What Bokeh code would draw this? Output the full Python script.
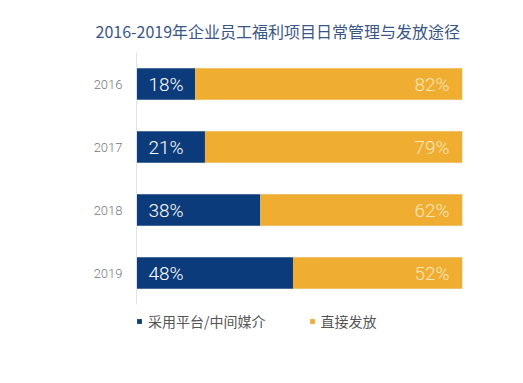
from bokeh.plotting import figure
from bokeh.models import ColumnDataSource, Range1d, FactorRange, Legend, LegendItem
from bokeh.core.properties import value
from bokeh.embed import file_html
from bokeh.resources import INLINE

years = ["2016", "2017", "2018", "2019"]
platform = [18, 21, 38, 48]
direct = [82, 79, 62, 52]
series_names = ["采用平台/中间媒介", "直接发放"]
title_text = "2016-2019年企业员工福利项目日常管理与发放途径"

DARK = "#0c3b7c"
ORANGE = "#efad32"
FONT = "Noto Sans CJK SC"
NUMFONT = "Roboto Light, Liberation Sans, Noto Sans CJK SC"

src = ColumnDataSource(dict(
    year=years,
    platform=platform,
    direct=direct,
    plabel=[f"{v}%" for v in platform],
    dlabel=[f"{v}%" for v in direct],
    zero=[0] * len(years),
    total=[p_ + d_ for p_, d_ in zip(platform, direct)],
))

p = figure(
    frame_width=326, frame_height=252,
    x_range=Range1d(0, 100),
    y_range=FactorRange(*years[::-1]),
    x_axis_location=None,
    output_backend="svg", toolbar_location=None,
    min_border_left=136, min_border_right=45,
    min_border_top=52, min_border_bottom=63,
)
p.outline_line_color = None
p.xgrid.visible = False
p.ygrid.visible = False

rs = p.hbar_stack(["platform", "direct"], y="year", height=0.5, source=src,
                  color=[DARK, ORANGE], line_color=None)

p.text(x="zero", y="year", text="plabel", source=src, x_offset=12,
       text_align="left", text_baseline="middle", text_color="white",
       text_font=value(NUMFONT), text_font_size="19px")
p.text(x="total", y="year", text="dlabel", source=src, x_offset=-13,
       text_align="right", text_baseline="middle", text_color="#fbe6bb",
       text_font=value(NUMFONT), text_font_size="19px")

yax = p.yaxis[0]
yax.major_tick_line_color = None
yax.minor_tick_line_color = None
yax.axis_line_color = "#e2e2e2"
yax.major_label_standoff = 8
yax.major_label_text_font = NUMFONT
yax.major_label_text_font_size = "13px"
yax.major_label_text_color = "#777777"

p.title.text = title_text
p.title.align = "left"
p.title.offset = -41
p.title.standoff = 20
p.title.text_font = FONT
p.title.text_font_size = "16px"
p.title.text_font_style = "normal"
p.title.text_color = "#3a5687"

lg = Legend(items=[LegendItem(label=n, renderers=[r]) for n, r in zip(series_names, rs)])
lg.orientation = "horizontal"
lg.location = "top_left"
lg.padding = 2
lg.margin = 0
lg.spacing = 43
lg.border_line_color = None
lg.background_fill_alpha = 0
lg.glyph_width = 6
lg.glyph_height = 6
lg.label_height = 34
lg.label_standoff = 6
lg.label_text_font = FONT
lg.label_text_font_size = "14px"
lg.label_text_color = "#555555"
p.add_layout(lg, "below")

open("out.html", "w").write(file_html(p, INLINE))
